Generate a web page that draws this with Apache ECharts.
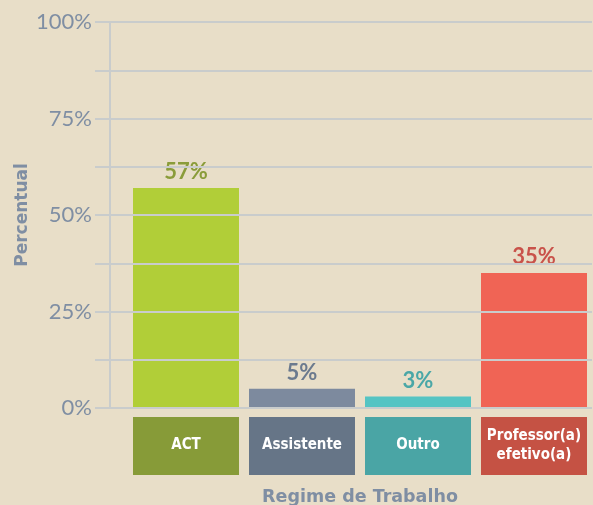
<!DOCTYPE html>
<html>
<head>
<meta charset="utf-8">
<script src="https://cdn.jsdelivr.net/npm/echarts@6/dist/echarts.min.js"></script>
<style>
  html, body { margin: 0; padding: 0; background: #e8dec8; }
  #chart { width: 593px; height: 505px; }
</style>
</head>
<body>
<div id="chart"></div>
<script>
var categories = ['ACT', 'Assistente', 'Outro', 'Professor(a)\nefetivo(a)']
var values = [57, 5, 3, 35]
var yTicks = [0, 25, 50, 75, 100]

var barColors = ['#b1ce38', '#7d8a9e', '#55c4c3', '#f06455']
var labelColors = ['#8a9c3a', '#6b7a8e', '#4aa7a7', '#c9524a']
var boxColors = ['#879b38', '#667587', '#4aa5a5', '#c55244']
var gridColor = '#c9cccc'
var axisText = '#7f8ea3'

var chart = echarts.init(document.getElementById('chart'))

var xData = categories.map(function (c, i) {
  var twoLines = c.indexOf('\n') >= 0
  return {
    value: c,
    textStyle: {
      backgroundColor: boxColors[i],
      width: 106,
      lineHeight: 19,
      padding: twoLines ? [10, 0, 10, 0] : [19, 0, 20, 0]
    }
  }
})

var option = {
  backgroundColor: '#e8dec8',
  grid: [
    { left: 110, right: 1, top: 22, bottom: 97, outerBoundsMode: 'none' },
    { left: 128, right: 1, top: 22, bottom: 97, outerBoundsMode: 'none' }
  ],
  xAxis: [
    { type: 'value', gridIndex: 0, show: false, min: 0, max: 1 },
    {
      type: 'category',
      gridIndex: 1,
      data: xData,
      axisLine: { show: false },
      axisTick: { show: false },
      axisLabel: {
        interval: 0,
        margin: 9,
        color: '#ffffff',
        fontFamily: '"Liberation Sans Narrow", "DejaVu Sans Condensed", sans-serif',
        fontWeight: 'bold',
        fontSize: 15,
        align: 'center'
      },
      name: 'Regime de Trabalho',
      nameLocation: 'middle',
      nameGap: 80,
      nameMoveOverlap: false,
      nameTextStyle: {
        color: axisText,
        fontFamily: '"DejaVu Sans", sans-serif',
        fontWeight: 'bold',
        fontSize: 17.5
      }
    }
  ],
  yAxis: [
    {
      type: 'value',
      gridIndex: 0,
      min: 0,
      max: 100,
      interval: 12.5,
      z: 5,
      axisLine: { show: true, lineStyle: { color: gridColor, width: 2 } },
      axisTick: { show: true, length: 15, lineStyle: { color: gridColor, width: 2 } },
      splitLine: { show: true, lineStyle: { color: gridColor, width: 2 } },
      axisLabel: {
        margin: 18,
        color: axisText,
        fontFamily: 'Lato, sans-serif',
        fontSize: 22,
        formatter: function (v) {
          return yTicks.indexOf(v) >= 0 ? v + '%' : ''
        }
      },
      name: 'Percentual',
      nameLocation: 'middle',
      nameGap: 79,
      nameMoveOverlap: false,
      nameTextStyle: {
        color: axisText,
        fontFamily: '"DejaVu Sans", sans-serif',
        fontWeight: 'bold',
        fontSize: 17
      }
    },
    { type: 'value', gridIndex: 1, min: 0, max: 100, show: false }
  ],
  series: [
    {
      type: 'bar',
      xAxisIndex: 1,
      yAxisIndex: 1,
      barWidth: 106,
      data: values.map(function (v, i) {
        return {
          value: v,
          itemStyle: { color: barColors[i] },
          label: { color: labelColors[i] }
        }
      }),
      label: {
        show: true,
        position: 'top',
        distance: 5,
        fontFamily: 'Lato, sans-serif',
        fontWeight: 'bold',
        fontSize: 22,
        formatter: '{c}%'
      }
    }
  ]
}

chart.setOption(option)
</script>
</body>
</html>
